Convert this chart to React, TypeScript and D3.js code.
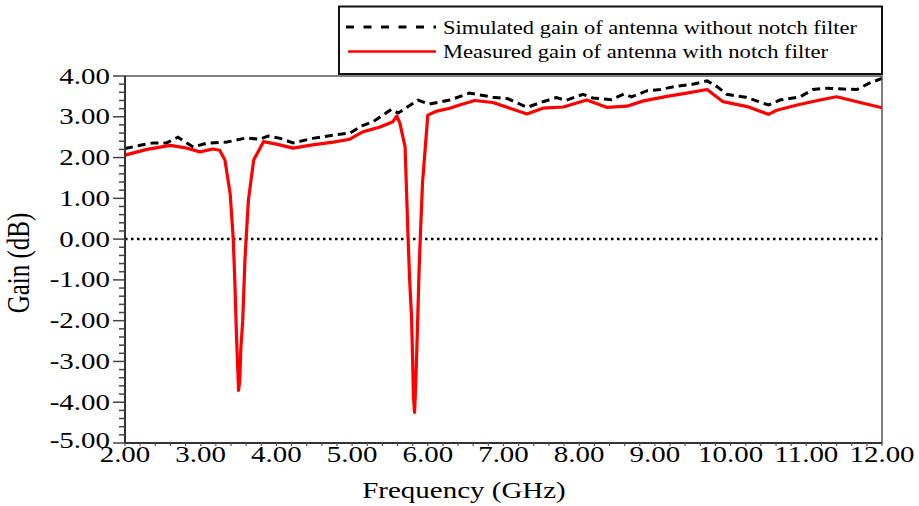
import React from "react";
import * as d3 from "d3";

// Simulated gain without notch filter (GHz, dB)
const simFreq = [2.0, 2.2, 2.37, 2.55, 2.7, 2.9, 3.08, 3.35, 3.6, 3.78, 3.89, 4.05, 4.22, 4.48, 4.75, 4.97, 5.13, 5.28, 5.52, 5.61, 5.87, 6.02, 6.29, 6.55, 6.86, 7.06, 7.31, 7.52, 7.7, 7.82, 8.05, 8.18, 8.43, 8.59, 8.69, 8.9, 9.07, 9.29, 9.5, 9.69, 9.82, 9.95, 10.2, 10.5, 10.65, 10.92, 11.09, 11.27, 11.49, 11.67, 11.84, 12.0];
const simGain = [2.22, 2.3, 2.36, 2.36, 2.5, 2.26, 2.35, 2.38, 2.48, 2.45, 2.53, 2.47, 2.36, 2.47, 2.55, 2.6, 2.78, 2.88, 3.18, 3.09, 3.41, 3.31, 3.41, 3.58, 3.48, 3.44, 3.23, 3.37, 3.47, 3.4, 3.55, 3.46, 3.42, 3.56, 3.49, 3.64, 3.67, 3.75, 3.8, 3.88, 3.74, 3.55, 3.48, 3.29, 3.41, 3.49, 3.67, 3.7, 3.68, 3.67, 3.83, 3.94];

// Measured gain with notch filter (GHz, dB)
const measFreq = [2.0, 2.29, 2.6, 2.82, 2.99, 3.16, 3.25, 3.32, 3.39, 3.43, 3.45, 3.475, 3.49, 3.5, 3.515, 3.53, 3.555, 3.57, 3.585, 3.6, 3.63, 3.7, 3.83, 4.0, 4.22, 4.48, 4.75, 4.97, 5.14, 5.37, 5.54, 5.59, 5.63, 5.7, 5.74, 5.76, 5.785, 5.8, 5.81, 5.825, 5.84, 5.855, 5.87, 5.885, 5.9, 5.93, 6.0, 6.12, 6.29, 6.42, 6.62, 6.86, 7.31, 7.52, 7.79, 8.1, 8.37, 8.63, 8.85, 9.16, 9.42, 9.69, 9.9, 10.22, 10.5, 10.61, 10.88, 11.18, 11.4, 11.67, 12.0];
const measGain = [2.06, 2.2, 2.3, 2.23, 2.14, 2.21, 2.18, 1.94, 1.1, 0.0, -1.0, -2.5, -3.2, -3.71, -3.5, -2.7, -2.0, -1.25, -0.5, 0.0, 0.95, 1.94, 2.39, 2.33, 2.23, 2.31, 2.38, 2.45, 2.63, 2.75, 2.88, 3.02, 2.85, 2.26, 0.0, -1.0, -1.9, -3.0, -3.87, -4.25, -3.6, -2.7, -1.75, -0.76, 0.0, 1.37, 3.04, 3.14, 3.21, 3.29, 3.4, 3.35, 3.07, 3.21, 3.24, 3.41, 3.23, 3.26, 3.39, 3.5, 3.58, 3.67, 3.37, 3.25, 3.06, 3.16, 3.29, 3.41, 3.49, 3.37, 3.22];

const xTicks = [2, 3, 4, 5, 6, 7, 8, 9, 10, 11, 12];
const yTicks = [4, 3, 2, 1, 0, -1, -2, -3, -4, -5];
const legendLabels = [
  "Simulated gain of antenna without notch filter",
  "Measured gain of antenna with notch filter",
];
const xTitle = "Frequency (GHz)";
const yTitle = "Gain (dB)";

const W = 919;
const H = 506;
const L = 125, R = 882, T = 76, B = 443;
const FONT = "'Liberation Serif', 'Times New Roman', serif";
const SX = 1.26;

export default function App() {
  const x = d3.scaleLinear().domain([2, 12]).range([L, R]);
  const y = d3.scaleLinear().domain([-5, 4]).range([B, T]);

  const line = d3
    .line<[number, number]>()
    .x((d) => x(d[0]))
    .y((d) => y(d[1]));

  const simPts: [number, number][] = simFreq.map((f, i) => [f, simGain[i]]);
  const measPts: [number, number][] = measFreq.map((f, i) => [f, measGain[i]]);

  const yMinor = d3.range(-5, 4.001, 0.2).map((v) => +v.toFixed(2));
  const xMinor = d3.range(2, 12.001, 0.2).map((v) => +v.toFixed(2));

  return (
    <svg
      width={W}
      height={H}
      style={{ position: "absolute", left: 0, top: 0, background: "#fff" }}
      fontFamily={FONT}
    >
      <rect x={0} y={0} width={W} height={H} fill="#fff" />

      {/* zero reference line */}
      <line
        x1={x(2)}
        x2={x(12)}
        y1={y(0)}
        y2={y(0)}
        stroke="#000"
        strokeWidth={2.5}
        strokeDasharray="2.5 3.5"
      />

      {/* curves */}
      <path d={line(simPts) || ""} fill="none" stroke="#000" strokeWidth={3} strokeDasharray="8 5" />
      <path d={line(measPts) || ""} fill="none" stroke="#ff0000" strokeWidth={3.2} strokeLinejoin="round" />

      {/* frame */}
      <rect x={L} y={T} width={R - L} height={B - T} fill="none" stroke="#555" strokeWidth={1.5} />
      <line x1={L} x2={L} y1={T} y2={B} stroke="#333" strokeWidth={2} />
      <line x1={L} x2={R} y1={B} y2={B} stroke="#333" strokeWidth={2} />

      {/* ticks */}
      {yMinor.map((v) => {
        const major = Math.abs(v - Math.round(v)) < 1e-6;
        return (
          <line
            key={"ym" + v}
            x1={L - (major ? 12 : 6)}
            x2={L}
            y1={y(v)}
            y2={y(v)}
            stroke="#444"
            strokeWidth={1.5}
          />
        );
      })}
      {xMinor.map((v) => (
        <line key={"xm" + v} x1={x(v)} x2={x(v)} y1={B} y2={B + 3} stroke="#555" strokeWidth={1.2} />
      ))}

      {yTicks.map((v) => (
        <text
          key={"yl" + v}
          transform={`translate(110,${y(v) + (v === -5 ? 5 : 7.5)}) scale(${SX},1)`}
          textAnchor="end"
          fontSize={23}
          fill="#000"
        >
          {v.toFixed(2)}
        </text>
      ))}
      {xTicks.map((v) => (
        <text
          key={"xl" + v}
          transform={`translate(${x(v)},462) scale(${SX},1)`}
          textAnchor="middle"
          fontSize={23}
          fill="#000"
        >
          {v.toFixed(2)}
        </text>
      ))}

      {/* axis titles */}
      <text
        transform={`translate(464,498) scale(${SX},1)`}
        textAnchor="middle"
        fontSize={23}
        fill="#000"
      >
        {xTitle}
      </text>
      <text
        transform={`translate(29,263) scale(${SX},1) rotate(-90)`}
        textAnchor="middle"
        fontSize={25}
        fill="#000"
      >
        {yTitle}
      </text>

      {/* legend */}
      <rect x={339} y={6.5} width={543} height={67.5} fill="#fff" stroke="#111" strokeWidth={2} />
      <line x1={346} x2={436} y1={27} y2={27} stroke="#000" strokeWidth={3} strokeDasharray="8 9.5" />
      <line x1={348} x2={436} y1={51.5} y2={51.5} stroke="#ff0000" strokeWidth={2.5} />
      <text x={443} y={33.5} fontSize={19} fill="#000" textLength={414} lengthAdjust="spacingAndGlyphs">
        {legendLabels[0]}
      </text>
      <text x={443} y={57.5} fontSize={19} fill="#000" textLength={385} lengthAdjust="spacingAndGlyphs">
        {legendLabels[1]}
      </text>
    </svg>
  );
}
